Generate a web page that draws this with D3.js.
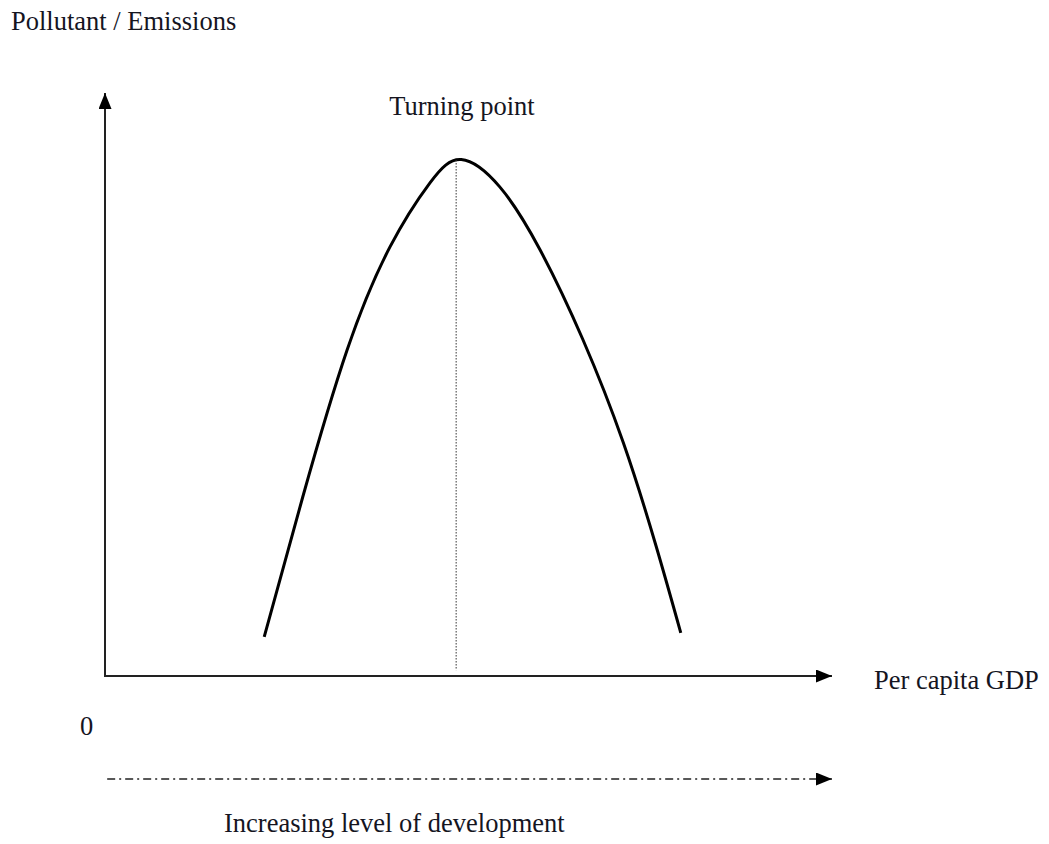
<!DOCTYPE html>
<html>
<head>
<meta charset="utf-8">
<script src="https://cdn.jsdelivr.net/npm/d3@7"></script>
<style>
  body { margin: 0; background: #fff; }
  #ekcChart text { font-family: "Liberation Serif", "Times New Roman", serif; fill: #15151f; }
</style>
</head>
<body>
<div id="ekcChart"></div>
<script>
// Curve: GDP index (0-100) vs emissions index (0-100)
const gdpLevels = [21.9, 27.2, 33.3, 39.2, 44.7, 49.0, 54.3, 59.8, 65.7, 71.3, 75.8, 79.2];
const emissionLevels = [6.7, 30.7, 55.9, 73.6, 84.6, 88.6, 83.9, 73.2, 57.8, 40.0, 22.3, 7.4];
const turningPointGdp = 48.3;
const turningPointTop = 88.5;

const yAxisLabel = 'Pollutant / Emissions';
const xAxisLabel = 'Per capita GDP';
const peakLabel = 'Turning point';
const originLabel = '0';
const developmentLabel = 'Increasing level of development';

class KuznetsChart {
  constructor () {
    this.chartContainer = d3.select('#ekcChart');
    this.chartWidth = 1049;
    this.chartHeight = 844;
    this.left = 105; // y axis position
    this.right = 832; // tip of x arrow
    this.bottom = 676; // x axis position
    this.top = 93; // tip of y arrow
    this.chart = null;
  }

  render () {
    this.createSvg();
    this.initScales();
    this.drawAxes();
    this.drawCurve();
    this.drawLabels();
  }

  createSvg () {
    this.chart = this.chartContainer
      .append('svg')
      .attr('width', this.chartWidth)
      .attr('height', this.chartHeight);

    this.chart.append('defs')
      .append('marker')
      .attr('id', 'arrow')
      .attr('markerUnits', 'userSpaceOnUse')
      .attr('viewBox', '0 0 16 13')
      .attr('markerWidth', 16)
      .attr('markerHeight', 13)
      .attr('refX', 16)
      .attr('refY', 6.5)
      .attr('orient', 'auto')
      .append('path')
      .attr('d', 'M0,0 L16,6.5 L0,13 Z')
      .attr('fill', '#000');
  }

  initScales () {
    this.xScale = d3.scaleLinear().domain([0, 100]).range([this.left, this.right]);
    this.yScale = d3.scaleLinear().domain([0, 100]).range([this.bottom, this.top]);
  }

  drawAxes () {
    let axes = this.chart.append('g').attr('class', 'c-axis');

    // x axis
    axes.append('line')
      .attr('x1', this.xScale(0))
      .attr('y1', this.yScale(0))
      .attr('x2', this.xScale(100))
      .attr('y2', this.yScale(0))
      .attr('stroke', '#222')
      .attr('stroke-width', 2)
      .attr('marker-end', 'url(#arrow)');

    // y axis
    axes.append('line')
      .attr('x1', this.xScale(0))
      .attr('y1', this.yScale(0) + 1)
      .attr('x2', this.xScale(0))
      .attr('y2', this.yScale(100))
      .attr('stroke', '#222')
      .attr('stroke-width', 2)
      .attr('marker-end', 'url(#arrow)');

    // development arrow under the chart (dash-dot)
    let devY = this.yScale(0) + 103;
    axes.append('line')
      .attr('x1', this.xScale(0.3))
      .attr('y1', devY)
      .attr('x2', this.xScale(100))
      .attr('y2', devY)
      .attr('stroke', '#222')
      .attr('stroke-width', 1.5)
      .attr('stroke-dasharray', '8,4,2,4')
      .attr('marker-end', 'url(#arrow)');
  }

  drawCurve () {
    let points = gdpLevels.map((g, i) => [g, emissionLevels[i]]);

    let line = d3.line()
      .x((d) => this.xScale(d[0]))
      .y((d) => this.yScale(d[1]))
      .curve(d3.curveNatural);

    this.chart.append('path')
      .datum(points)
      .attr('class', 'c-curve')
      .attr('d', line)
      .attr('fill', 'none')
      .attr('stroke', '#000')
      .attr('stroke-width', 3);

    // dotted drop line from the turning point
    this.chart.append('line')
      .attr('x1', this.xScale(turningPointGdp))
      .attr('y1', this.yScale(turningPointTop))
      .attr('x2', this.xScale(turningPointGdp))
      .attr('y2', this.yScale(1))
      .attr('stroke', '#333')
      .attr('stroke-width', 1)
      .attr('stroke-dasharray', '1.5,1.5');
  }

  drawLabels () {
    let labels = this.chart.append('g').attr('class', 'c-labels').style('font-size', '26.5px');

    labels.append('text')
      .attr('x', 11)
      .attr('y', 30)
      .text(yAxisLabel);

    labels.append('text')
      .attr('x', this.xScale(49.1))
      .attr('y', 115)
      .attr('text-anchor', 'middle')
      .text(peakLabel);

    labels.append('text')
      .attr('x', 874)
      .attr('y', this.yScale(0) + 13)
      .text(xAxisLabel);

    labels.append('text')
      .attr('x', 80)
      .attr('y', this.yScale(0) + 59)
      .text(originLabel);

    labels.append('text')
      .attr('x', 224)
      .attr('y', this.yScale(0) + 156)
      .text(developmentLabel);
  }
}

new KuznetsChart().render();
</script>
</body>
</html>
